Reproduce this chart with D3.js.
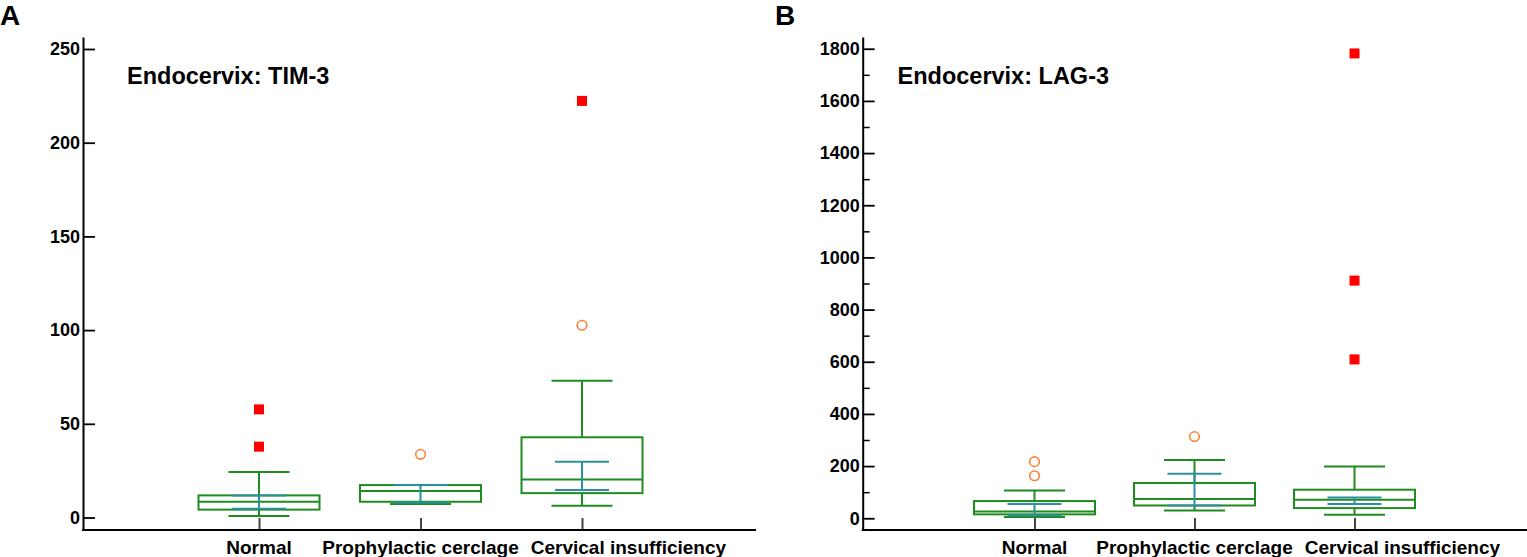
<!DOCTYPE html>
<html>
<head>
<meta charset="utf-8">
<script src="https://cdn.jsdelivr.net/npm/d3@7/dist/d3.min.js"></script>
<style>
  html, body { margin: 0; padding: 0; background: #fff; }
  svg { display: block; }
  text { font-family: "Liberation Sans", Arial, Helvetica, sans-serif; font-weight: bold; fill: #000; }
</style>
</head>
<body>
<svg id="chart" width="1527" height="557"></svg>
<script>
// ---------- DATA ----------
const categories = ["Normal", "Prophylactic cerclage", "Cervical insufficiency"];

// Panel A: Endocervix TIM-3
const tim3Min     = [0.8, 7.2, 6.3];
const tim3Q1      = [4.2, 8.4, 13.0];
const tim3Median  = [8.4, 14.1, 20.3];
const tim3Q3      = [11.8, 17.3, 42.8];
const tim3Max     = [24.3, 17.3, 73.0];
const tim3CiLow   = [4.7, 8.0, 14.7];
const tim3CiHigh  = [11.8, 17.3, 29.8];
const tim3Outside = [[], [33.7], [102.6]];
const tim3FarOut  = [[57.7, 37.8], [], [222.3]];
const tim3Ticks   = [0, 50, 100, 150, 200, 250];
const tim3Minor   = [];

// Panel B: Endocervix LAG-3
const lag3Min     = [5, 30, 13.4];
const lag3Q1      = [15, 49, 39];
const lag3Median  = [26, 73.7, 71];
const lag3Q3      = [66, 135, 109.5];
const lag3Max     = [106, 223.6, 198];
const lag3CiLow   = [12, 49, 54.5];
const lag3CiHigh  = [54.5, 171, 80];
const lag3Outside = [[217, 163], [313], []];
const lag3FarOut  = [[], [], [1782, 911, 609]];
const lag3Ticks   = [0, 200, 400, 600, 800, 1000, 1200, 1400, 1600, 1800];
const lag3Minor   = [100, 300, 500, 700, 900, 1100, 1300, 1500, 1700];

// ---------- STYLE ----------
const GREEN = "#1f8c1f";
const TEAL = "#2b8fa0";
const RED = "#ff0000";
const ORANGE = "#ff8030";

const svg = d3.select("#chart");
svg.append("rect").attr("width", 1527).attr("height", 557).attr("fill", "#fff");

const panels = [
  {
    letter: "A", letterX: 0, title: "Endocervix: TIM-3",
    axisX: 83, axisEnd: 756, titleX: 127,
    catRange: [259, 582],
    yDomain: [-6.67, 256.4],
    min: tim3Min, q1: tim3Q1, med: tim3Median, q3: tim3Q3, max: tim3Max,
    ciLo: tim3CiLow, ciHi: tim3CiHigh, outside: tim3Outside, farOut: tim3FarOut,
    ticks: tim3Ticks, minor: tim3Minor
  },
  {
    letter: "B", letterX: 775, title: "Endocervix: LAG-3",
    axisX: 862.7, axisEnd: 1527, titleX: 897.5,
    catRange: [1034.5, 1354.5],
    yDomain: [-45, 1845],
    min: lag3Min, q1: lag3Q1, med: lag3Median, q3: lag3Q3, max: lag3Max,
    ciLo: lag3CiLow, ciHi: lag3CiHigh, outside: lag3Outside, farOut: lag3FarOut,
    ticks: lag3Ticks, minor: lag3Minor
  }
];

const yBottom = 530, yTop = 37;
const boxW = 121, capW = 61, ciCapW = 54;

panels.forEach(p => {
  const g = svg.append("g");
  const y = d3.scaleLinear().domain(p.yDomain).range([yBottom, yTop]);
  const x = d3.scalePoint().domain(categories).range(p.catRange);

  // panel letter and title
  g.append("text").attr("x", p.letterX).attr("y", 25).style("font-size", "28px").text(p.letter);
  g.append("text").attr("x", p.titleX).attr("y", 83.5).style("font-size", "23.5px").text(p.title);

  // y axis (major)
  const yAxis = d3.axisLeft(y).tickValues(p.ticks).tickSize(-12).tickSizeOuter(0).tickPadding(3)
    .tickFormat(d3.format("d"));
  const ya = g.append("g").attr("transform", `translate(${p.axisX},0)`).call(yAxis);
  ya.select(".domain").attr("stroke", "#000").attr("stroke-width", 2);
  ya.selectAll(".tick line").attr("stroke", "#000").attr("stroke-width", 1.8);
  ya.selectAll(".tick text").style("font-size", "18px").style("font-family", '"Liberation Sans", Arial, sans-serif')
    .style("font-weight", "bold").attr("fill", "#000");

  // minor ticks
  if (p.minor.length) {
    const yMinor = d3.axisLeft(y).tickValues(p.minor).tickSize(-7).tickSizeOuter(0).tickFormat("");
    const ym = g.append("g").attr("transform", `translate(${p.axisX},0)`).call(yMinor);
    ym.select(".domain").remove();
    ym.selectAll(".tick line").attr("stroke", "#000").attr("stroke-width", 1.5);
  }

  // x axis baseline
  g.append("line").attr("x1", p.axisX - 1).attr("x2", p.axisEnd)
    .attr("y1", yBottom).attr("y2", yBottom).attr("stroke", "#000").attr("stroke-width", 2);

  // category ticks
  const xAxis = d3.axisBottom(x).tickSize(-11).tickSizeOuter(0).tickFormat("");
  const xa = g.append("g").attr("transform", `translate(0,${yBottom - 1})`).call(xAxis);
  xa.select(".domain").remove();
  xa.selectAll(".tick line").attr("stroke", "#444").attr("stroke-width", 2);

  // category labels with overlap avoidance
  let prevRight = -Infinity;
  categories.forEach(c => {
    const t = g.append("text").attr("y", 554).style("font-size", "19px").text(c);
    const w = t.node().getComputedTextLength();
    let left = x(c) - w / 2;
    if (left < prevRight + 12) left = prevRight + 12;
    t.attr("x", left);
    prevRight = left + w;
  });

  // boxes
  categories.forEach((c, i) => {
    const cx = x(c);
    const bg = g.append("g");
    // whiskers
    bg.append("line").attr("x1", cx).attr("x2", cx).attr("y1", y(p.q3[i])).attr("y2", y(p.max[i]))
      .attr("stroke", GREEN).attr("stroke-width", 2);
    bg.append("line").attr("x1", cx).attr("x2", cx).attr("y1", y(p.q1[i])).attr("y2", y(p.min[i]))
      .attr("stroke", GREEN).attr("stroke-width", 2);
    bg.append("line").attr("x1", cx - capW / 2).attr("x2", cx + capW / 2).attr("y1", y(p.max[i])).attr("y2", y(p.max[i]))
      .attr("stroke", GREEN).attr("stroke-width", 2);
    bg.append("line").attr("x1", cx - capW / 2).attr("x2", cx + capW / 2).attr("y1", y(p.min[i])).attr("y2", y(p.min[i]))
      .attr("stroke", GREEN).attr("stroke-width", 2);
    // box
    bg.append("rect").attr("x", cx - boxW / 2).attr("width", boxW)
      .attr("y", y(p.q3[i])).attr("height", y(p.q1[i]) - y(p.q3[i]))
      .attr("fill", "none").attr("stroke", GREEN).attr("stroke-width", 2);
    // median
    bg.append("line").attr("x1", cx - boxW / 2).attr("x2", cx + boxW / 2).attr("y1", y(p.med[i])).attr("y2", y(p.med[i]))
      .attr("stroke", GREEN).attr("stroke-width", 2);
    // CI of median (teal)
    bg.append("line").attr("x1", cx).attr("x2", cx).attr("y1", y(p.ciHi[i])).attr("y2", y(p.ciLo[i]))
      .attr("stroke", TEAL).attr("stroke-width", 2);
    [p.ciHi[i], p.ciLo[i]].forEach(v => {
      bg.append("line").attr("x1", cx - ciCapW / 2).attr("x2", cx + ciCapW / 2).attr("y1", y(v)).attr("y2", y(v))
        .attr("stroke", TEAL).attr("stroke-width", 2);
    });
    // outside values (orange circles)
    p.outside[i].forEach(v => {
      bg.append("circle").attr("cx", cx).attr("cy", y(v)).attr("r", 4.8)
        .attr("fill", "none").attr("stroke", ORANGE).attr("stroke-width", 1.6);
    });
    // far out values (red squares)
    p.farOut[i].forEach(v => {
      bg.append("rect").attr("x", cx - 5).attr("y", y(v) - 5).attr("width", 10).attr("height", 10)
        .attr("fill", RED);
    });
  });
});
</script>
</body>
</html>
